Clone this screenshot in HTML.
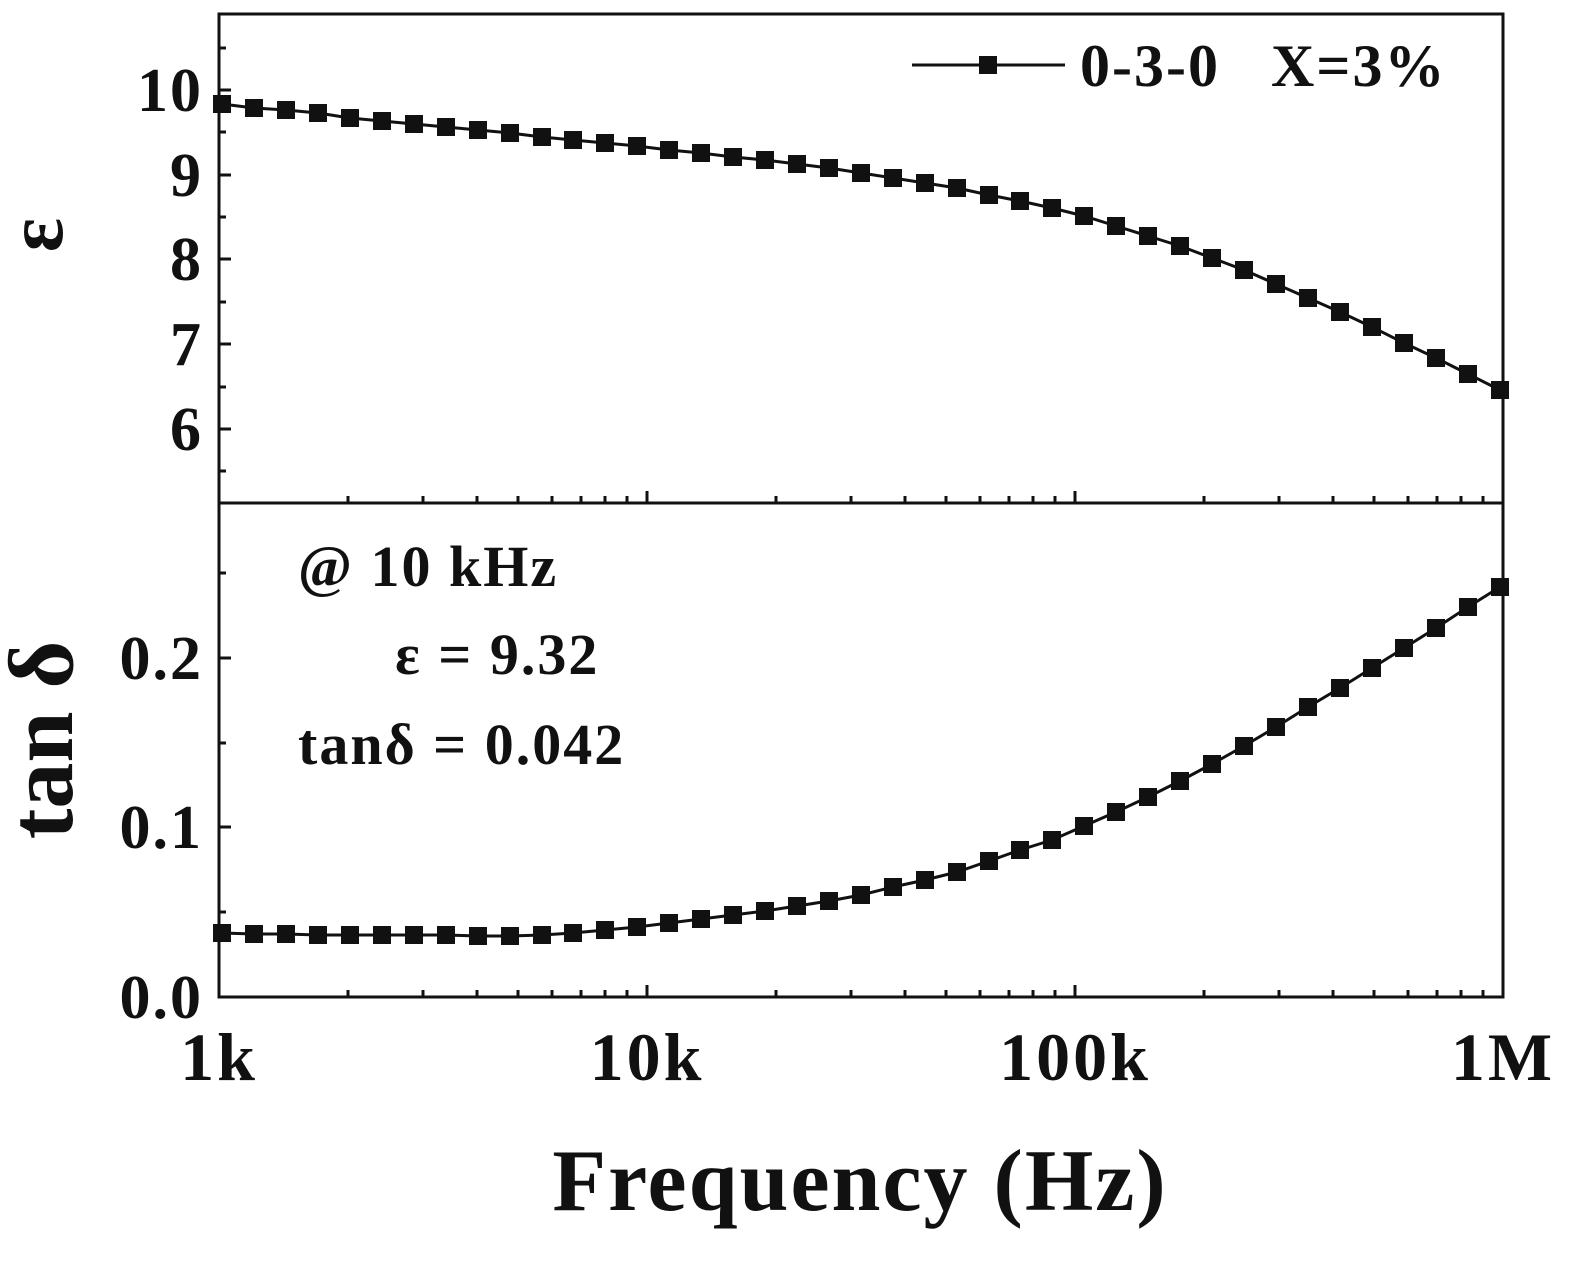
<!DOCTYPE html>
<html><head><meta charset="utf-8"><style>
html,body{margin:0;padding:0;background:#fff;}
svg text{font-family:"Liberation Serif",serif;font-weight:bold;fill:#111;}
</style></head><body>
<svg width="1593" height="1257" viewBox="0 0 1593 1257" xmlns="http://www.w3.org/2000/svg">
<defs><rect id="m" x="-9" y="-9" width="18" height="18" fill="#111"/></defs>
<polyline fill="none" stroke="#111" stroke-width="3" points="222,104 254,108 286,110 318,113 350,118 382,121 414,124 446,127 478,130 510,133 542,137 573,140 605,143 637,146 669,150 701,153 733,157 765,160 797,164 829,168 861,173 893,178 925,183 957,188 989,195 1020,201 1052,208 1084,216 1116,226 1148,236 1180,246 1212,258 1244,270 1276,284 1308,298 1340,312 1372,327 1404,343 1436,358 1468,374 1500,390"/>
<polyline fill="none" stroke="#111" stroke-width="3" points="222,933 254,934 286,934 318,935 350,935 382,935 414,935 446,935 478,936 510,936 542,935 573,933 605,930 637,927 669,923 701,919 733,915 765,911 797,906 829,901 861,895 893,887 925,880 957,872 989,861 1020,850 1052,840 1084,826 1116,812 1148,797 1180,781 1212,764 1244,746 1276,727 1308,707 1340,688 1372,668 1404,648 1436,628 1468,607 1500,587"/>
<g>
<use href="#m" x="222" y="104"/><use href="#m" x="254" y="108"/><use href="#m" x="286" y="110"/><use href="#m" x="318" y="113"/><use href="#m" x="350" y="118"/><use href="#m" x="382" y="121"/><use href="#m" x="414" y="124"/><use href="#m" x="446" y="127"/><use href="#m" x="478" y="130"/><use href="#m" x="510" y="133"/><use href="#m" x="542" y="137"/><use href="#m" x="573" y="140"/><use href="#m" x="605" y="143"/><use href="#m" x="637" y="146"/><use href="#m" x="669" y="150"/><use href="#m" x="701" y="153"/><use href="#m" x="733" y="157"/><use href="#m" x="765" y="160"/><use href="#m" x="797" y="164"/><use href="#m" x="829" y="168"/><use href="#m" x="861" y="173"/><use href="#m" x="893" y="178"/><use href="#m" x="925" y="183"/><use href="#m" x="957" y="188"/><use href="#m" x="989" y="195"/><use href="#m" x="1020" y="201"/><use href="#m" x="1052" y="208"/><use href="#m" x="1084" y="216"/><use href="#m" x="1116" y="226"/><use href="#m" x="1148" y="236"/><use href="#m" x="1180" y="246"/><use href="#m" x="1212" y="258"/><use href="#m" x="1244" y="270"/><use href="#m" x="1276" y="284"/><use href="#m" x="1308" y="298"/><use href="#m" x="1340" y="312"/><use href="#m" x="1372" y="327"/><use href="#m" x="1404" y="343"/><use href="#m" x="1436" y="358"/><use href="#m" x="1468" y="374"/><use href="#m" x="1500" y="390"/>
<use href="#m" x="222" y="933"/><use href="#m" x="254" y="934"/><use href="#m" x="286" y="934"/><use href="#m" x="318" y="935"/><use href="#m" x="350" y="935"/><use href="#m" x="382" y="935"/><use href="#m" x="414" y="935"/><use href="#m" x="446" y="935"/><use href="#m" x="478" y="936"/><use href="#m" x="510" y="936"/><use href="#m" x="542" y="935"/><use href="#m" x="573" y="933"/><use href="#m" x="605" y="930"/><use href="#m" x="637" y="927"/><use href="#m" x="669" y="923"/><use href="#m" x="701" y="919"/><use href="#m" x="733" y="915"/><use href="#m" x="765" y="911"/><use href="#m" x="797" y="906"/><use href="#m" x="829" y="901"/><use href="#m" x="861" y="895"/><use href="#m" x="893" y="887"/><use href="#m" x="925" y="880"/><use href="#m" x="957" y="872"/><use href="#m" x="989" y="861"/><use href="#m" x="1020" y="850"/><use href="#m" x="1052" y="840"/><use href="#m" x="1084" y="826"/><use href="#m" x="1116" y="812"/><use href="#m" x="1148" y="797"/><use href="#m" x="1180" y="781"/><use href="#m" x="1212" y="764"/><use href="#m" x="1244" y="746"/><use href="#m" x="1276" y="727"/><use href="#m" x="1308" y="707"/><use href="#m" x="1340" y="688"/><use href="#m" x="1372" y="668"/><use href="#m" x="1404" y="648"/><use href="#m" x="1436" y="628"/><use href="#m" x="1468" y="607"/><use href="#m" x="1500" y="587"/>
</g>
<rect x="219" y="14" width="1284" height="983" fill="none" stroke="#111" stroke-width="3"/>
<line x1="219" y1="503" x2="1503" y2="503" stroke="#111" stroke-width="3"/>
<path stroke="#111" stroke-width="3" fill="none" d="
M219,90h12M219,175h12M219,259h12M219,344h12M219,429h12
M219,48h7M219,132h7M219,217h7M219,302h7M219,387h7M219,471h7
M219,827h12M219,658h12M219,912h7M219,743h7M219,573h7
M647,503v-12M1075,503v-12M647,997v-12M1075,997v-12
M348,503v-7M423,503v-7M477,503v-7M518,503v-7M552,503v-7M581,503v-7M605,503v-7M627,503v-7
M776,503v-7M851,503v-7M905,503v-7M946,503v-7M980,503v-7M1009,503v-7M1033,503v-7M1055,503v-7
M1204,503v-7M1279,503v-7M1333,503v-7M1374,503v-7M1408,503v-7M1437,503v-7M1461,503v-7M1483,503v-7
M348,997v-7M423,997v-7M477,997v-7M518,997v-7M552,997v-7M581,997v-7M605,997v-7M627,997v-7
M776,997v-7M851,997v-7M905,997v-7M946,997v-7M980,997v-7M1009,997v-7M1033,997v-7M1055,997v-7
M1204,997v-7M1279,997v-7M1333,997v-7M1374,997v-7M1408,997v-7M1437,997v-7M1461,997v-7M1483,997v-7"/>
<g font-size="62" text-anchor="end" letter-spacing="2">
<text x="203" y="111">10</text><text x="203" y="196">9</text><text x="203" y="280">8</text>
<text x="203" y="365">7</text><text x="203" y="450">6</text>
<text x="203" y="679">0.2</text><text x="203" y="848">0.1</text><text x="203" y="1018">0.0</text>
</g>
<g font-size="68" text-anchor="middle" letter-spacing="3">
<text x="219" y="1080">1k</text><text x="647" y="1080">10k</text><text x="1075" y="1080">100k</text><text x="1503" y="1080">1M</text>
</g>
<text x="860" y="1210" font-size="88" text-anchor="middle" letter-spacing="2">Frequency (Hz)</text>
<text transform="translate(62,235) rotate(-90)" font-size="80" text-anchor="middle">ε</text>
<text transform="translate(72,740) rotate(-90)" font-size="92" text-anchor="middle">tan δ</text>
<line x1="912" y1="65" x2="1065" y2="65" stroke="#111" stroke-width="3"/>
<rect x="979" y="56" width="18" height="18" fill="#111"/>
<text x="1080" y="86" font-size="60" xml:space="preserve" letter-spacing="2">0-3-0   X=3%</text>
<text x="298" y="586" font-size="58" letter-spacing="2">@ 10 kHz</text>
<text x="395" y="674" font-size="58" letter-spacing="2">ε = 9.32</text>
<text x="298" y="764" font-size="58" letter-spacing="2">tanδ = 0.042</text>
</svg>
</body></html>
